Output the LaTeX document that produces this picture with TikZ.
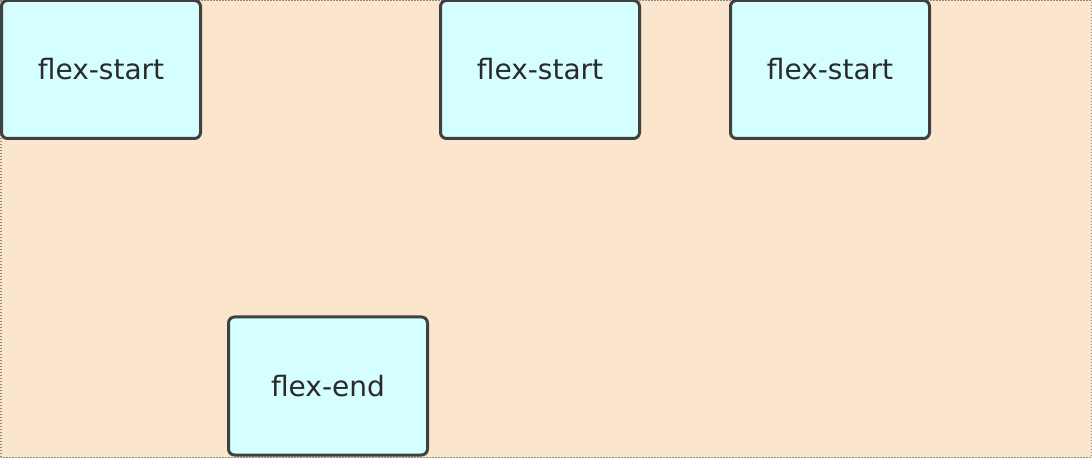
\documentclass[tikz,border=0pt]{standalone}
\usepackage{fontspec}
\setmainfont{DejaVu Sans}
\begin{document}
\begin{tikzpicture}[x=1pt,y=1pt,
  item/.style={draw=boxline,line width=3pt,fill=boxfill,rounded corners=6pt,
    minimum width=199pt,minimum height=138pt,inner sep=0pt,
    font=\fontsize{28}{33}\selectfont,text=txt}]
\definecolor{bg}{HTML}{FCE5CD}
\definecolor{boxfill}{HTML}{D5FEFF}
\definecolor{boxline}{HTML}{404040}
\definecolor{txt}{HTML}{2A2A2A}
\definecolor{dots}{HTML}{8A8A8A}
\useasboundingbox (0,0) rectangle (1092,458);
\fill[bg] (0,0) rectangle (1092,458);
\draw[dots,line width=1.5pt,dash pattern=on 1.5pt off 1.5pt] (0.75,0.75) rectangle (1091.25,457.25);
\node[item] (a) at (101,388.5) {flex-start};
\node[item] (b) at (540,388.5) {flex-start};
\node[item] (c) at (830,388.5) {flex-start};
\node[item] (d) at (328,72) {flex-end};
\end{tikzpicture}
\end{document}
